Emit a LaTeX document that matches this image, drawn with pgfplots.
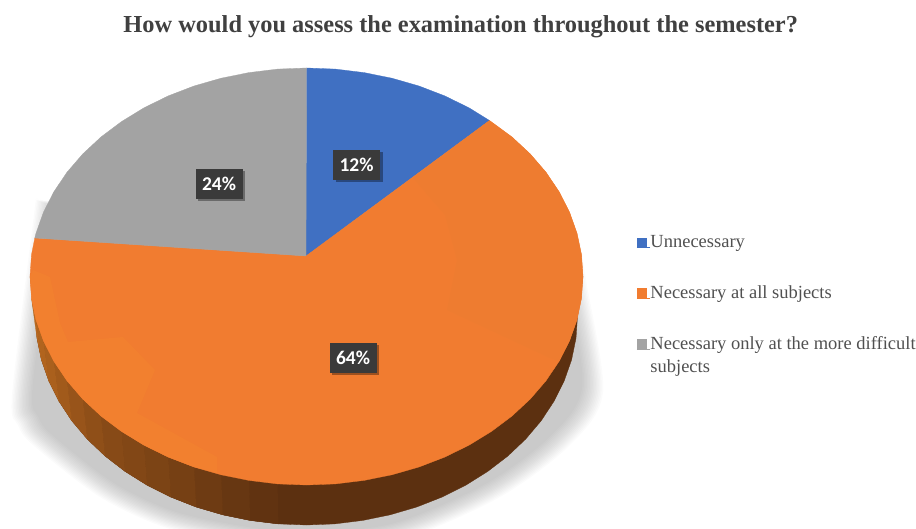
\documentclass[border=0pt]{standalone}
\usepackage{fontspec}
\setmainfont{Liberation Serif}
\newfontfamily\lab{Carlito}
\usepackage{pgfplots}
\pgfplotsset{compat=1.18}
\usepackage{pgfplotstable}
\usetikzlibrary{shadows}
\definecolor{cblue}{HTML}{4070C2}
\definecolor{corange}{HTML}{F17C30}
\definecolor{cdk}{HTML}{EE7C30}
\definecolor{clt}{HTML}{F2802F}
\definecolor{cgrey}{HTML}{A3A3A3}
\definecolor{wl}{HTML}{B8681F}
\definecolor{wd}{HTML}{5C3010}
\definecolor{txt}{HTML}{404040}
\definecolor{legtxt}{HTML}{505050}
\definecolor{boxc}{HTML}{3A3A3A}
\pgfplotstableread{
x y
36 200
34 215
12 395
18 425
33 445
100 497
167 528
250 545
306 550
400 540
500 497
570 445
603 392
586 280
580 240
}\shadowtab
\newcommand{\strip}[2]{\addplot[forget plot,fill=wl!#1!wd,draw=wl!#1!wd,line width=.3pt] coordinates {#2} --cycle;}
\begin{document}
\begin{tikzpicture}
\useasboundingbox (0,0) rectangle (916pt,529pt);
\begin{axis}[
  at={(0,0)}, anchor=south west,
  hide axis, scale only axis, width=916pt, height=529pt,
  xmin=0, xmax=916, ymin=0, ymax=529, y dir=reverse,
  title={\fontsize{24.4}{28}\selectfont\bfseries\color{txt}How would you assess the examination throughout the semester?},
  title style={at={(axis description cs:0.503,0.938)},anchor=center,inner sep=0pt},
  legend cell align=left,
  legend image code/.code={\path[fill,#1] (0pt,0pt) rectangle (9.5pt,9.5pt);\path (0pt,0pt)--(13.5pt,0pt);},
  legend style={at={(axis description cs:0.6948,0.556)},anchor=north west,draw=none,fill=none,inner sep=0pt,
    font=\fontsize{18.5}{23}\selectfont\color{legtxt},row sep=36.5pt,
    nodes={inner sep=0pt,anchor=base west}},
]
% soft shadow
\pgfplotsinvokeforeach{0.93,0.935,0.94,0.945,0.95,0.955,0.96,0.965,0.97,0.975,0.98,0.985,0.99,0.995,1.0}{
  \addplot[forget plot,smooth,fill=black,draw=none,opacity=0.014]
    table[x expr={306.5+(\thisrow{x}-306.5)*#1},y expr={300+(\thisrow{y}-300)*#1}]{\shadowtab} --cycle;
}
% side wall, dark base
\addplot[forget plot,fill=wd,draw=wd,line width=.3pt] coordinates {
(583,276.5)(577.5,316.5)(576,338.3)(571.6,359.8)(564.2,380.9)(554,401.3)(541.2,420.75)(525.7,439.1)(507.9,456)(487.8,471.4)(465.8,485.2)(442,497.1)(416.8,507)(390.2,514.8)(362.9,520.4)(334.8,523.9)(306.5,525)(278.2,523.9)(250.1,520.4)(222.8,514.8)(196.2,507)(171,497.1)(147.2,485.2)(125.1,471.4)(105.1,456)(87.3,439.1)(71.8,420.75)(59,401.3)(48.8,380.9)(41.4,359.8)(37,338.3)(35.5,316.5)(30,276.5)} --cycle;
% side wall, shaded strips on the left
\strip{5}{(277.6,483.9)(249,480.4)(250.1,520.4)(278.2,523.9)}
\strip{12}{(249,480.4)(221.1,474.8)(222.8,514.8)(250.1,520.4)}
\strip{20}{(221.1,474.8)(194,467)(196.2,507)(222.8,514.8)}
\strip{28}{(194,467)(168.25,457.1)(171,497.1)(196.2,507)}
\strip{35}{(168.25,457.1)(144,445.2)(147.2,485.2)(171,497.1)}
\strip{41}{(144,445.2)(121.5,431.4)(125.1,471.4)(147.2,485.2)}
\strip{47}{(121.5,431.4)(101,416)(105.1,456)(125.1,471.4)}
\strip{55}{(101,416)(82.8,399.1)(87.3,439.1)(105.1,456)}
\strip{65}{(82.8,399.1)(67,380.75)(71.8,420.75)(87.3,439.1)}
\strip{75}{(67,380.75)(53.9,361.3)(59,401.3)(71.8,420.75)}
\strip{85}{(53.9,361.3)(43.5,340.9)(48.8,380.9)(59,401.3)}
\strip{92}{(43.5,340.9)(36,319.8)(41.4,359.8)(48.8,380.9)}
\strip{100}{(36,319.8)(31.5,298.3)(37,338.3)(41.4,359.8)}
% top face: 12%
\addplot[fill=cblue,draw=cblue,line width=.3pt] coordinates {
(306,256)(306.5,68)(335.4,69.1)(364,72.6)(391.9,78.2)(419,86)(444.75,95.9)(469,107.8)(489.5,120.5)} --cycle;
% top face: 64%
\addplot[fill=corange,draw=corange,line width=.3pt] coordinates {
(306,256)(489.5,120.5)(512,137)(530.2,153.9)(546,172.25)(559.1,191.7)(569.5,212.1)(577,233.2)(581.5,254.7)(583,276.5)(581.5,298.3)(577,319.8)(569.5,340.9)(559.1,361.3)(546,380.75)(530.2,399.1)(512,416)(491.5,431.4)(469,445.2)(444.75,457.1)(419,467)(391.9,474.8)(364,480.4)(335.4,483.9)(306.5,485)(277.6,483.9)(249,480.4)(221.1,474.8)(194,467)(168.25,457.1)(144,445.2)(121.5,431.4)(101,416)(82.8,399.1)(67,380.75)(53.9,361.3)(43.5,340.9)(36,319.8)(31.5,298.3)(30,276.5)(31.5,254.7)(34.8,238)} --cycle;
% top face: 24%
\addplot[fill=cgrey,draw=cgrey,line width=.3pt] coordinates {
(306,256)(34.8,238)(36,233.2)(43.5,212.1)(53.9,191.7)(67,172.25)(82.8,153.9)(101,137)(121.5,121.6)(144,107.8)(168.25,95.9)(194,86)(221.1,78.2)(249,72.6)(277.6,69.1)(306.5,68)} --cycle;
% subtle shading of the orange face
\addplot[forget plot,fill=cdk,draw=none] coordinates {
(413,178)(445,215)(457,260)(447,310)(550,358)(559.1,361.3)(569.5,340.9)(577,319.8)(581.5,298.3)(583,276.5)(581.5,254.7)(577,233.2)(569.5,212.1)(559.1,191.7)(546,172.25)(530.2,153.9)(512,137)(489.5,120.5)} --cycle;
\addplot[forget plot,fill=clt,draw=none] coordinates {
(33,270)(50,277)(60,323)(68,342)(123,337)(155,370)(137,413)(217,457)(217,473)(194,467)(168.25,457.1)(144,445.2)(121.5,431.4)(101,416)(82.8,399.1)(67,380.75)(53.9,361.3)(43.5,340.9)(36,319.8)(31.5,298.3)(30,276.5)} --cycle;
\legend{Unnecessary,Necessary at all subjects,{\parbox[t]{275pt}{\lineskiplimit=-10pt\baselineskip=23pt Necessary only at the more difficult\\subjects}}}
% data labels
\tikzset{dl/.style={fill=boxc,text=white,minimum width=47pt,minimum height=30pt,inner sep=0pt,font=\lab\bfseries\fontsize{19.5}{20}\selectfont,general shadow={shadow xshift=2.5pt,shadow yshift=-2.5pt,fill=black,opacity=.35}}}
\node[dl] at (axis cs:356.5,165) {12\%};
\node[dl] at (axis cs:219,184) {24\%};
\node[dl] at (axis cs:353,358) {64\%};
\end{axis}
\end{tikzpicture}
\end{document}
